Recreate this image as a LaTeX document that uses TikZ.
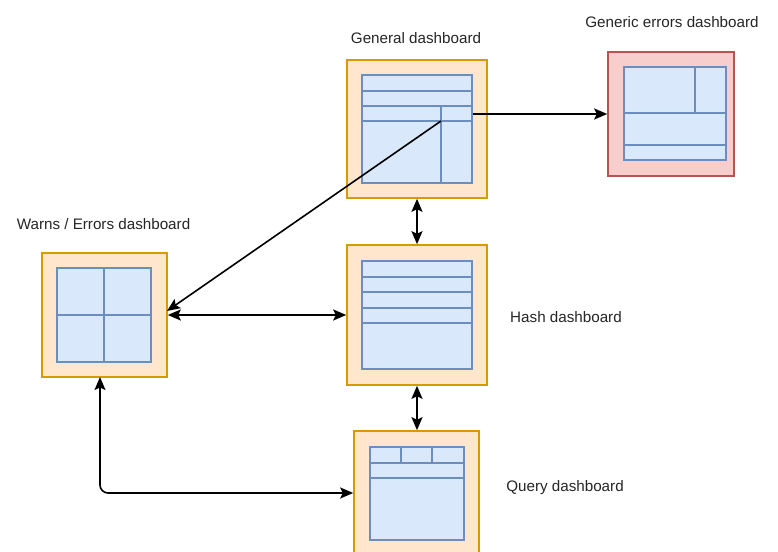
\documentclass[tikz,border=0pt]{standalone}
\usepackage{fontspec}
\setmainfont{Liberation Sans}
\usetikzlibrary{arrows.meta}
\definecolor{orS}{HTML}{D79B00}
\definecolor{orF}{HTML}{FFE6CC}
\definecolor{blS}{HTML}{6C8EBF}
\definecolor{blF}{HTML}{DAE8FC}
\definecolor{rdS}{HTML}{B85450}
\definecolor{rdF}{HTML}{F8CECC}
\definecolor{txt}{HTML}{262626}
\tikzset{
  outerbox/.style={draw=orS, fill=orF, line width=1.6pt, inner sep=0pt, rectangle},
  redbox/.style={draw=rdS, fill=rdF, line width=1.6pt, inner sep=0pt, rectangle},
  innerbox/.style={draw=blS, fill=blF, line width=1.5pt, inner sep=0pt, rectangle},
  inline/.style={draw=blS, line width=1.5pt},
  lbl/.style={font=\fontsize{15.2}{18}\selectfont, text=txt, inner sep=0pt},
  conn/.style={draw=black, line width=1.6pt},
  tip/.style={-{Stealth[length=13pt,width=11pt,inset=2.5pt]}},
  dtip/.style={{Stealth[length=13pt,width=11pt,inset=2.5pt]}-{Stealth[length=13pt,width=11pt,inset=2.5pt]}}
}
\begin{document}
\begin{tikzpicture}[x=1pt,y=-1pt]
\useasboundingbox (0,0) rectangle (778,551);
\fill[white] (0,0) rectangle (778,551);

% General dashboard
\node[outerbox, minimum width=140pt, minimum height=138pt] (gen) at (417,129) {};
\node[innerbox, minimum width=110pt, minimum height=108pt] (genin) at (417,129) {};
\draw[inline] (362,91) -- (472,91);
\draw[inline] (362,106) -- (472,106);
\draw[inline] (362,121) -- (472,121);
\draw[inline] (441,106) -- (441,183);
\coordinate (genj) at (441,121);
\node[lbl] (genl) at (416,38) {General dashboard};

% Generic errors dashboard
\node[redbox, minimum width=126pt, minimum height=124pt] (generic) at (671,114) {};
\node[innerbox, minimum width=102pt, minimum height=93pt] (genericin) at (675,113.5) {};
\draw[inline] (624,113) -- (726,113);
\draw[inline] (624,145) -- (726,145);
\draw[inline] (695,67) -- (695,113);
\node[lbl] (genericl) at (672,22) {Generic errors dashboard};

% Warns / Errors dashboard
\node[outerbox, minimum width=125pt, minimum height=124pt] (warns) at (104.5,315) {};
\node[innerbox, minimum width=94pt, minimum height=94pt] (warnsin) at (104,315) {};
\draw[inline] (104,268) -- (104,362);
\draw[inline] (57,315) -- (151,315);
\node[lbl] (warnsl) at (103.5,224) {Warns / Errors dashboard};

% Hash dashboard
\node[outerbox, minimum width=140pt, minimum height=140pt] (hash) at (417,315) {};
\node[innerbox, minimum width=110pt, minimum height=108pt] (hashin) at (417,315) {};
\draw[inline] (362,277) -- (472,277);
\draw[inline] (362,292) -- (472,292);
\draw[inline] (362,308) -- (472,308);
\draw[inline] (362,323) -- (472,323);
\node[lbl] (hashl) at (566,317) {Hash dashboard};

% Query dashboard
\node[outerbox, minimum width=125pt, minimum height=124pt] (query) at (416.5,493) {};
\node[innerbox, minimum width=94pt, minimum height=93pt] (queryin) at (417,493.5) {};
\draw[inline] (370,463) -- (464,463);
\draw[inline] (370,478) -- (464,478);
\draw[inline] (401,447) -- (401,463);
\draw[inline] (432,447) -- (432,463);
\node[lbl] (queryl) at (565,488) {Query dashboard};

% Connectors
\coordinate (warnsd) at (167,311);
\draw[conn, tip] (genj) -- (warnsd);
\draw[conn, tip] (genin.east |- generic.west) -- (generic.west);
\draw[conn, dtip] (gen.south) -- (hash.north);
\draw[conn, dtip] (hash.south) -- (hash.south |- query.north);
\draw[conn, dtip] (warns.east) -- (hash.west);
\coordinate (warnsb) at (100,377);
\draw[conn, dtip, rounded corners=8pt] (warnsb) |- (query.west);
\end{tikzpicture}
\end{document}
